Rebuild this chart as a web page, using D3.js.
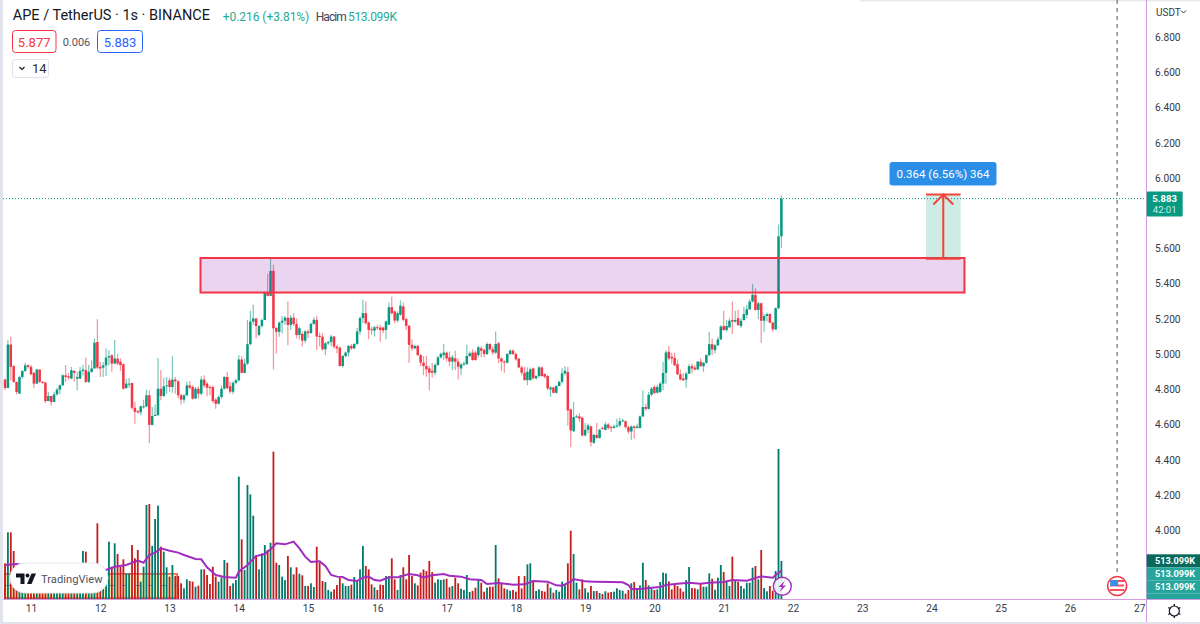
<!DOCTYPE html>
<html>
<head>
<meta charset="utf-8">
<title>APE / TetherUS</title>
<script src="https://cdn.jsdelivr.net/npm/d3@7"></script>
<style>
    html, body { margin: 0; padding: 0; background: #fff; overflow: hidden; }
    text { font-family: Roboto, "Noto Sans", sans-serif; }
    .axis text { font-size: 10.2px; fill: #363a45; }
</style>
</head>
<body>
<div id="chart"></div>
<script>
// ---- hourly candles, first one is 10th 15:00
const opens = [
    4.856,4.808,5.055,4.932,4.843,4.776,4.871,4.905,4.937,4.928,4.894,4.833,4.913,4.843,4.839,4.734,4.763,4.729,4.772,4.799,
    4.823,4.880,4.875,4.861,4.905,4.861,4.861,4.905,4.909,4.843,4.900,4.919,5.069,4.928,4.924,4.937,4.981,4.994,4.947,4.974,
    4.957,4.943,4.808,4.829,4.837,4.696,4.677,4.670,4.700,4.704,4.767,4.599,4.649,4.653,4.804,4.763,4.818,4.852,4.814,4.856,
    4.846,4.767,4.742,4.767,4.823,4.814,4.748,4.804,4.776,4.856,4.833,4.814,4.814,4.742,4.719,4.757,4.804,4.871,4.818,4.787,
    4.837,4.852,4.970,4.894,4.947,5.057,5.185,5.203,5.109,5.160,5.194,5.350,5.331,5.473,5.150,5.127,5.179,5.190,5.207,5.166,
    5.207,5.171,5.109,5.115,5.077,5.129,5.119,5.172,5.195,5.104,5.100,5.028,5.062,5.070,5.100,5.043,5.037,4.933,4.990,5.009,
    5.047,5.033,5.058,5.129,5.205,5.233,5.180,5.142,5.134,5.153,5.151,5.151,5.138,5.167,5.267,5.243,5.191,5.224,5.271,5.199,
    5.161,5.053,5.033,5.047,4.995,4.952,4.933,4.919,4.906,4.895,4.939,4.982,4.995,5.009,4.982,4.958,4.976,4.958,4.919,4.942,
    4.944,4.990,5.009,5.009,4.995,5.033,5.024,5.001,5.058,5.028,5.009,5.062,4.976,4.958,4.952,5.001,5.020,5.001,4.975,4.925,
    4.895,4.853,4.853,4.919,4.863,4.876,4.925,4.887,4.876,4.800,4.811,4.781,4.819,4.843,4.891,4.899,4.687,4.563,4.643,4.647,
    4.639,4.539,4.571,4.590,4.497,4.542,4.525,4.582,4.571,4.601,4.586,4.582,4.590,4.596,4.620,4.620,4.586,4.561,4.590,4.582,
    4.582,4.647,4.700,4.690,4.770,4.814,4.782,4.786,4.833,4.894,5.014,4.985,4.979,4.943,4.886,4.862,4.856,4.890,4.932,4.924,
    4.913,4.958,4.932,4.951,4.995,5.057,5.023,5.051,5.084,5.160,5.137,5.152,5.194,5.185,5.204,5.160,5.194,5.223,5.255,5.299,
    5.337,5.251,5.289,5.190,5.217,5.228,5.179,5.141,5.261,5.669
];
const closes = [
    4.808,5.055,4.928,4.843,4.785,4.871,4.905,4.937,4.928,4.886,4.833,4.913,4.843,4.837,4.734,4.763,4.729,4.772,4.799,4.823,
    4.880,4.871,4.867,4.909,4.894,4.871,4.905,4.913,4.843,4.900,4.919,5.065,4.924,4.919,4.937,4.981,4.989,4.947,4.976,4.947,
    4.938,4.804,4.833,4.833,4.696,4.673,4.670,4.704,4.704,4.767,4.599,4.649,4.656,4.804,4.763,4.818,4.823,4.814,4.856,4.846,
    4.767,4.742,4.767,4.823,4.810,4.748,4.804,4.776,4.856,4.823,4.810,4.810,4.734,4.719,4.757,4.804,4.871,4.808,4.787,4.837,
    4.852,4.970,4.894,4.947,5.057,5.185,5.203,5.160,5.160,5.194,5.350,5.331,5.473,5.147,5.127,5.179,5.190,5.207,5.166,5.207,
    5.171,5.109,5.147,5.077,5.129,5.119,5.172,5.195,5.100,5.100,5.028,5.062,5.070,5.100,5.043,5.033,4.933,4.990,5.009,5.047,
    5.033,5.058,5.129,5.205,5.233,5.176,5.138,5.138,5.153,5.148,5.138,5.134,5.186,5.267,5.233,5.191,5.233,5.275,5.195,5.161,
    5.053,5.033,5.047,4.995,4.952,4.933,4.914,4.895,4.895,4.939,4.982,5.001,5.009,4.976,4.958,4.982,4.958,4.929,4.942,4.948,
    4.990,5.005,4.967,4.967,5.039,5.020,5.001,5.058,5.028,5.009,5.058,4.976,4.958,4.952,5.001,5.020,5.001,4.971,4.925,4.895,
    4.853,4.900,4.914,4.863,4.876,4.925,4.876,4.872,4.806,4.811,4.781,4.819,4.843,4.891,4.906,4.681,4.567,4.643,4.647,4.634,
    4.539,4.571,4.596,4.501,4.542,4.525,4.571,4.577,4.601,4.582,4.580,4.590,4.596,4.620,4.624,4.586,4.561,4.590,4.582,4.590,
    4.647,4.700,4.690,4.770,4.805,4.780,4.814,4.833,4.894,5.010,4.976,4.976,4.937,4.886,4.856,4.852,4.890,4.932,4.919,4.913,
    4.958,4.932,4.951,4.995,5.057,5.027,5.051,5.084,5.156,5.137,5.160,5.190,5.185,5.194,5.166,5.190,5.228,5.255,5.299,5.337,
    5.251,5.289,5.190,5.217,5.228,5.179,5.141,5.261,5.669,5.883
];
const highs = [
    4.861,5.080,5.099,4.938,4.843,4.875,4.909,4.951,4.943,4.938,4.899,4.918,4.913,4.848,4.843,4.785,4.763,4.785,4.810,4.829,
    4.886,4.938,4.894,4.928,4.909,4.899,4.928,4.938,4.981,4.938,4.966,5.090,5.198,4.956,4.956,5.033,5.023,5.000,5.080,5.000,
    4.976,4.947,4.861,4.867,4.837,4.729,4.685,4.709,4.742,4.799,4.795,4.700,4.715,4.979,4.909,4.867,4.871,4.867,4.989,4.871,
    4.852,4.776,4.772,4.843,4.848,4.823,4.814,4.818,4.875,4.880,4.843,4.823,4.823,4.748,4.767,4.823,4.875,4.900,4.843,4.848,
    4.861,4.995,4.989,4.976,5.194,5.247,5.280,5.203,5.166,5.203,5.356,5.456,5.551,5.508,5.152,5.185,5.217,5.217,5.299,5.222,
    5.232,5.203,5.156,5.129,5.138,5.142,5.180,5.210,5.218,5.123,5.119,5.071,5.077,5.110,5.104,5.053,5.043,4.996,5.015,5.053,
    5.058,5.062,5.148,5.214,5.309,5.300,5.186,5.157,5.161,5.167,5.167,5.157,5.191,5.294,5.328,5.248,5.243,5.305,5.294,5.205,
    5.167,5.085,5.053,5.053,5.001,4.990,4.990,4.933,4.948,4.948,4.990,5.009,5.058,5.015,5.015,4.996,5.020,4.977,4.948,4.958,
    5.053,5.015,5.028,5.020,5.047,5.047,5.033,5.066,5.062,5.043,5.129,5.071,4.982,4.967,5.005,5.028,5.028,5.009,4.977,4.933,
    4.929,4.925,4.925,4.925,4.881,4.933,4.929,4.891,4.881,4.819,4.815,4.825,4.849,4.920,4.933,4.928,4.691,4.729,4.658,4.666,
    4.647,4.609,4.605,4.596,4.548,4.609,4.577,4.590,4.615,4.609,4.596,4.601,4.634,4.639,4.634,4.624,4.596,4.596,4.596,4.605,
    4.652,4.795,4.719,4.786,4.814,4.824,4.827,4.843,4.957,5.023,5.046,5.008,5.008,4.970,4.913,4.894,4.900,4.943,4.947,4.938,
    4.962,4.976,4.957,5.000,5.128,5.089,5.057,5.099,5.166,5.247,5.194,5.204,5.299,5.247,5.251,5.204,5.270,5.280,5.312,5.399,
    5.375,5.299,5.293,5.228,5.236,5.232,5.185,5.266,5.736,5.901
];
const lows = [
    4.795,4.808,4.852,4.837,4.772,4.776,4.861,4.899,4.918,4.880,4.808,4.833,4.837,4.833,4.723,4.734,4.709,4.729,4.766,4.772,
    4.823,4.843,4.856,4.861,4.843,4.795,4.861,4.880,4.837,4.837,4.894,4.919,4.913,4.871,4.871,4.875,4.937,4.900,4.943,4.937,
    4.905,4.799,4.804,4.810,4.685,4.605,4.662,4.653,4.691,4.700,4.495,4.595,4.649,4.653,4.738,4.757,4.776,4.785,4.780,4.776,
    4.748,4.715,4.723,4.761,4.799,4.742,4.748,4.748,4.767,4.810,4.761,4.767,4.723,4.691,4.715,4.748,4.799,4.799,4.776,4.772,
    4.829,4.843,4.890,4.890,4.937,5.051,5.166,5.090,5.103,5.152,5.194,5.327,5.331,4.913,5.004,5.099,5.118,5.166,5.051,5.137,
    5.160,5.090,5.084,5.043,5.062,5.090,5.119,5.167,5.024,5.043,5.020,4.995,5.053,5.047,5.033,5.005,4.929,4.925,4.982,4.986,
    5.024,5.028,5.053,5.110,5.176,5.167,5.085,5.110,5.100,5.138,5.071,5.119,5.085,5.218,5.224,5.176,5.180,5.218,5.185,5.138,
    4.952,5.020,5.028,4.990,4.933,4.881,4.872,4.796,4.868,4.881,4.933,4.976,4.967,4.958,4.933,4.910,4.910,4.857,4.881,4.933,
    4.939,4.982,4.963,4.963,4.982,4.982,4.982,4.995,5.020,4.995,5.001,4.948,4.906,4.895,4.948,4.995,4.995,4.963,4.920,4.881,
    4.849,4.824,4.849,4.857,4.857,4.868,4.872,4.863,4.796,4.758,4.777,4.777,4.819,4.834,4.881,4.596,4.472,4.557,4.639,4.615,
    4.533,4.533,4.552,4.476,4.491,4.520,4.520,4.571,4.567,4.571,4.557,4.578,4.582,4.586,4.615,4.577,4.548,4.514,4.520,4.577,
    4.577,4.643,4.681,4.685,4.761,4.772,4.776,4.780,4.795,4.833,4.966,4.947,4.932,4.881,4.852,4.848,4.810,4.886,4.890,4.909,
    4.913,4.928,4.900,4.947,4.989,4.995,5.004,5.046,5.080,5.133,5.128,5.152,5.114,5.179,5.160,5.147,5.190,5.204,5.251,5.293,
    5.247,5.198,5.065,5.128,5.185,5.175,5.128,5.137,5.255,5.602
];
// volume in K, the ones behind the logo are guessed
const volumes = [
    482,900,900,648,428,382,270,315,225,292,338,396,270,324,225,202,279,360,261,414,
    248,315,216,297,261,333,360,648,639,450,382,405,1022,360,315,270,774,436,752,608,
    436,536,346,346,729,549,662,234,436,1269,1282,716,1080,1260,706,639,428,302,459,310,
    310,212,144,266,243,234,166,180,400,400,324,202,436,302,234,292,526,490,176,212,
    256,1652,806,392,1539,1413,1125,594,400,616,729,662,760,1989,490,459,302,256,580,428,
    333,428,342,320,176,176,212,162,706,490,243,230,122,99,130,189,292,212,176,176,
    194,297,243,400,716,446,400,198,158,122,194,189,310,310,549,266,122,324,428,266,
    594,310,212,184,356,400,378,513,364,220,266,256,266,274,158,176,288,212,140,122,
    324,94,108,153,256,220,99,153,166,166,729,279,212,144,130,112,122,99,310,144,
    310,468,482,234,108,130,108,99,212,153,86,122,99,234,189,482,922,608,220,130,
    266,144,90,176,108,108,81,68,104,86,94,99,144,122,112,72,122,212,230,122,
    184,490,256,184,144,122,130,230,356,346,238,130,194,176,144,99,256,432,148,144,
    130,202,166,166,346,274,126,288,459,364,238,176,572,243,234,176,140,220,220,423,
    446,266,662,148,104,176,112,378,2025,513.099
];
// purple average on the volume pane, candle number and value in K
const maIndex = [0,4,12,22,35,38,42,46,48,50,52,54,57,60,62,66,68,70,73,76,80,81,84,87,90,92,94,97,100,102,
    104,106,109,111,113,115,117,119,122,124,126,128,130,133,136,140,143,145,148,152,154,158,161,165,167,171,176,180,183,188,
    191,193,196,197,201,204,210,214,216,217,220,224,227,229,233,237,241,244,249,252,257,262,266,267,269];
const maValues = [459,472,440,410,392,436,459,518,490,594,626,684,652,626,594,540,536,428,324,297,288,369,459,580,608,670,752,738,774,684,
    572,500,508,446,324,302,297,256,243,288,302,256,248,292,292,338,320,292,320,338,315,302,266,256,202,216,194,198,243,234,
    184,180,234,270,238,234,230,225,189,135,135,153,162,189,207,220,207,220,230,256,248,306,288,324,382];

const dayTicks = [11, 12, 13, 14, 15, 16, 17, 18, 19, 20, 21, 22, 23, 24, 25, 26, 27];
const priceTicks = [6.8, 6.6, 6.4, 6.2, 6.0, 5.6, 5.4, 5.2, 5.0, 4.8, 4.6, 4.4, 4.2, 4.0];

const lastPrice = 5.883;
const firstDay = 11 - 9 / 24;
const zone = { d0: 13.447, d1: 24.476, p0: 5.546, p1: 5.35 };
const range = { d0: 23.92, d1: 24.42, p0: 5.542, p1: 5.906 };
const oldBox = { d0: 10.625, d1: 13.11, p0: 3.753, p1: 3.616 };
const eventDay = 26.68;

// ---- sizes
const w = 1200;
const h = 624;
const paneRight = 1146.5;
const paneBottom = 599;

const green = "#089981";
const red = "#f23645";
const purple = "#d39be0";

// SCALES
const xScale = d3.scaleLinear().domain([11, 27]).range([31, 1139.3]);
const yScale = d3.scaleLinear().domain([6, 4]).range([178, 530.4]);
const volScale = d3.scaleLinear().domain([0, 2025]).range([paneBottom, 449]);

const svg = d3.select("#chart").append("svg").attr("width", w).attr("height", h);

const candles = closes.map((c, i) => ({
    day: firstDay + i / 24,
    open: opens[i],
    close: c,
    high: highs[i],
    low: lows[i],
    vol: volumes[i],
    up: c >= opens[i],
}));

// page edges
svg.append("rect").attr("width", w).attr("height", h).attr("fill", "#fff");
svg.append("rect").attr("width", 3).attr("height", h).attr("fill", "#e0e3eb");
svg.append("rect").attr("y", 622).attr("width", w).attr("height", 2).attr("fill", "#e0e3eb");
svg.append("rect").attr("x", 860).attr("width", 340).attr("height", 1.5).attr("fill", "#e8e9ee");

//------------------------------------
//         VOLUME PANE
//------------------------------------

// the little yellow drawing behind the logo
svg.append("rect")
    .attr("x", xScale(oldBox.d0))
    .attr("y", yScale(oldBox.p0))
    .attr("width", xScale(oldBox.d1) - xScale(oldBox.d0))
    .attr("height", yScale(oldBox.p1) - yScale(oldBox.p0))
    .attr("fill", "#fbf3b4")
    .attr("stroke", "#ef4e4e")
    .attr("stroke-width", 1.5);
svg.append("line")
    .attr("x1", xScale(oldBox.d0))
    .attr("x2", xScale(oldBox.d1))
    .attr("y1", 585.5)
    .attr("y2", 585.5)
    .attr("stroke", "#5b9bd5")
    .attr("stroke-dasharray", "5,8");

svg.append("g")
    .selectAll("rect")
    .data(candles)
    .enter()
    .append("rect")
    .attr("x", (d) => xScale(d.day) - 0.9)
    .attr("y", (d) => volScale(d.vol))
    .attr("width", 1.8)
    .attr("height", (d) => paneBottom - volScale(d.vol))
    .attr("fill", (d) => (d.up ? "#00796b" : "#c41c1c"));

const maLine = d3
    .line()
    .x((d) => xScale(firstDay + d / 24))
    .y((d, i) => volScale(maValues[i]));

svg.append("path")
    .attr("d", maLine(maIndex))
    .attr("fill", "none")
    .attr("stroke", "#a32cc0")
    .attr("stroke-width", 2);

//------------------------------------
//         CANDLES
//------------------------------------

const candle = svg.append("g").selectAll("g").data(candles).enter().append("g");

candle
    .append("line")
    .attr("x1", (d) => xScale(d.day))
    .attr("x2", (d) => xScale(d.day))
    .attr("y1", (d) => yScale(d.high))
    .attr("y2", (d) => yScale(d.low))
    .attr("stroke", (d) => (d.up ? green : red))
    .attr("stroke-opacity", 0.55)
    .attr("stroke-width", 1.2);

candle
    .append("rect")
    .attr("x", (d) => xScale(d.day) - 1.25)
    .attr("y", (d) => yScale(Math.max(d.open, d.close)))
    .attr("width", 2.5)
    .attr("height", (d) => Math.max(1, Math.abs(yScale(d.open) - yScale(d.close))))
    .attr("fill", (d) => (d.up ? green : red));

//------------------------------------
//         DRAWINGS
//------------------------------------

// last price line
svg.append("line")
    .attr("x1", 3)
    .attr("x2", paneRight)
    .attr("y1", yScale(lastPrice))
    .attr("y2", yScale(lastPrice))
    .attr("stroke", green)
    .attr("stroke-dasharray", "1,2");

// support / resistance zone
svg.append("rect")
    .attr("x", xScale(zone.d0))
    .attr("y", yScale(zone.p0))
    .attr("width", xScale(zone.d1) - xScale(zone.d0))
    .attr("height", yScale(zone.p1) - yScale(zone.p0))
    .attr("fill", "#9c27b0")
    .attr("fill-opacity", 0.2)
    .attr("stroke", red)
    .attr("stroke-width", 2);

// price range tool
const rangeX0 = xScale(range.d0);
const rangeX1 = xScale(range.d1);
const rangeMid = (rangeX0 + rangeX1) / 2;
const rangeBottom = yScale(range.p0);
const rangeTop = yScale(range.p1);
svg.append("rect")
    .attr("x", rangeX0)
    .attr("y", rangeTop)
    .attr("width", rangeX1 - rangeX0)
    .attr("height", rangeBottom - rangeTop)
    .attr("fill", green)
    .attr("fill-opacity", 0.2);
[rangeTop, rangeBottom].forEach((y) => {
    svg.append("line")
        .attr("x1", rangeX0)
        .attr("x2", rangeX1)
        .attr("y1", y)
        .attr("y2", y)
        .attr("stroke", "#f44336")
        .attr("stroke-width", 2);
});
svg.append("path")
    .attr("d", `M${rangeMid},${rangeBottom}V${rangeTop}M${rangeMid - 10},${rangeTop + 10}L${rangeMid},${rangeTop}L${rangeMid + 10},${rangeTop + 10}`)
    .attr("fill", "none")
    .attr("stroke", "#f44336")
    .attr("stroke-width", 2);

svg.append("rect")
    .attr("x", 889.5)
    .attr("y", 162)
    .attr("width", 107)
    .attr("height", 23.5)
    .attr("rx", 3)
    .attr("fill", "#2b8fe8");
svg.append("text")
    .attr("x", 943)
    .attr("y", 178)
    .attr("text-anchor", "middle")
    .attr("font-size", 11.5)
    .attr("fill", "#fff")
    .text("0.364 (6.56%) 364");

// event line and flag
const eventX = xScale(eventDay);
svg.append("line")
    .attr("x1", eventX)
    .attr("x2", eventX)
    .attr("y1", 0)
    .attr("y2", 576)
    .attr("stroke", "#50535e")
    .attr("stroke-dasharray", "4,4");
svg.append("circle").attr("cx", eventX).attr("cy", 586).attr("r", 9.5).attr("fill", "#fff").attr("stroke", red).attr("stroke-width", 1.6);
svg.append("rect").attr("x", eventX - 7).attr("y", 580).attr("width", 14).attr("height", 2).attr("fill", "#f7525f");
svg.append("rect").attr("x", eventX - 7).attr("y", 584.5).attr("width", 14).attr("height", 2).attr("fill", "#f7525f");
svg.append("rect").attr("x", eventX - 7).attr("y", 589).attr("width", 14).attr("height", 2).attr("fill", "#f7525f");
svg.append("rect").attr("x", eventX - 7).attr("y", 580).attr("width", 8).attr("height", 6).attr("fill", "#3d8fe6");

// TradingView badge
svg.append("rect")
    .attr("x", 10)
    .attr("y", 563)
    .attr("width", 98)
    .attr("height", 30)
    .attr("rx", 15)
    .attr("fill", "#fff")
    .attr("stroke", "#e8e9ee");
svg.append("path").attr("d", "M16,573.5H24.5V584H20.5V577.5H16Z").attr("fill", "#131722");
svg.append("circle").attr("cx", 27.5).attr("cy", 575.5).attr("r", 2).attr("fill", "#131722");
svg.append("path").attr("d", "M31.5,573.5H36L31.5,584H27Z").attr("fill", "#131722");
svg.append("text")
    .attr("x", 41)
    .attr("y", 582.8)
    .attr("font-size", 11.2)
    .attr("fill", "#50535e")
    .text("TradingView");

// bolt button at the last bar
svg.append("circle").attr("cx", 782.3).attr("cy", 586.3).attr("r", 9).attr("fill", "#fff").attr("fill-opacity", 0.85).attr("stroke", "#a32cc0").attr("stroke-width", 1.4);
svg.append("path").attr("d", "M785,580.5L778.5,587H782L779.5,592L786,585.5H782.5Z").attr("fill", "#a32cc0");

//------------------------------------
//         AXES
//------------------------------------

const yAxis = d3.axisRight(yScale).tickValues(priceTicks).tickFormat(d3.format(".3f")).tickSize(0).tickPadding(8.5);
svg.append("g")
    .attr("class", "axis")
    .attr("transform", `translate(${paneRight}, 0)`)
    .call(yAxis)
    .call((g) => g.select(".domain").remove());

const xAxis = d3.axisBottom(xScale).tickValues(dayTicks).tickFormat(d3.format("d")).tickSize(0).tickPadding(6);
svg.append("g")
    .attr("class", "axis")
    .attr("transform", `translate(0, ${paneBottom})`)
    .call(xAxis)
    .call((g) => g.select(".domain").remove());

svg.append("line").attr("x1", 3).attr("x2", w).attr("y1", paneBottom + 0.5).attr("y2", paneBottom + 0.5).attr("stroke", purple).attr("stroke-width", 1);
svg.append("line").attr("x1", paneRight).attr("x2", paneRight).attr("y1", 0).attr("y2", 622).attr("stroke", purple).attr("stroke-width", 1);

svg.append("text").attr("x", 1156).attr("y", 16).attr("font-size", 10).attr("fill", "#363a45").text("USDT");
svg.append("path").attr("d", "M1181,10.5L1183.5,13L1186,10.5").attr("fill", "none").attr("stroke", "#2a2e39").attr("stroke-width", 1);

// last price label
svg.append("rect").attr("x", 1146.7).attr("y", 191.5).attr("width", 36).attr("height", 25).attr("rx", 1).attr("fill", green);
svg.append("text").attr("x", 1164.7).attr("y", 201.5).attr("text-anchor", "middle").attr("font-size", 9.6).attr("font-weight", 700).attr("fill", "#fff").text("5.883");
svg.append("text").attr("x", 1164.7).attr("y", 213).attr("text-anchor", "middle").attr("font-size", 9.6).attr("fill", "#c7ece5").text("42:01");

// volume labels
const volLabels = ["513.099K", "513.099K", "513.099K"];
svg.append("g")
    .selectAll("rect")
    .data(volLabels)
    .enter()
    .append("rect")
    .attr("x", 1146.7)
    .attr("y", (d, i) => 554.3 + i * 13)
    .attr("width", 53.3)
    .attr("height", 13)
    .attr("fill", (d, i) => (i === 0 ? "#08695c" : "#26a69a"));
svg.append("rect").attr("x", 1146.7).attr("y", 593.3).attr("width", 53.3).attr("height", 5.7).attr("fill", "#26a69a");
svg.append("g")
    .selectAll("text")
    .data(volLabels)
    .enter()
    .append("text")
    .attr("x", 1155)
    .attr("y", (d, i) => 564.3 + i * 13)
    .attr("font-size", 9.2)
    .attr("font-weight", 700)
    .attr("fill", "#fff")
    .text((d) => d);

// gear
const gear = svg.append("g").attr("transform", "translate(1174.3, 611)");
gear.append("circle").attr("r", 5).attr("fill", "none").attr("stroke", "#131722").attr("stroke-width", 1.2);
d3.range(0, 360, 60).forEach((a) => {
    gear.append("line")
        .attr("x1", 5)
        .attr("x2", 7)
        .attr("transform", `rotate(${a + 30})`)
        .attr("stroke", "#131722")
        .attr("stroke-width", 1.4);
});

//------------------------------------
//         HEADER
//------------------------------------

svg.append("text").attr("x", 12.7).attr("y", 20).attr("font-size", 14.5).attr("fill", "#131722").text("APE / TetherUS · 1s · BINANCE");
svg.append("text").attr("x", 222.7).attr("y", 21).attr("font-size", 12).attr("textLength", 86.6).attr("fill", "#22ab94").text("+0.216 (+3.81%)");
svg.append("text").attr("x", 315.7).attr("y", 21).attr("font-size", 12).attr("textLength", 31).attr("fill", "#434651").text("Hacim");
svg.append("text").attr("x", 348).attr("y", 21).attr("font-size", 12).attr("textLength", 49).attr("fill", "#22ab94").text("513.099K");

svg.append("rect").attr("x", 12.5).attr("y", 30.5).attr("width", 43.5).attr("height", 22).attr("rx", 3).attr("fill", "#fff").attr("stroke", red);
svg.append("text").attr("x", 34.2).attr("y", 46.5).attr("text-anchor", "middle").attr("font-size", 13).attr("fill", red).text("5.877");
svg.append("text").attr("x", 76.5).attr("y", 46).attr("text-anchor", "middle").attr("font-size", 11).attr("fill", "#50535e").text("0.006");
svg.append("rect").attr("x", 97.5).attr("y", 30.5).attr("width", 45).attr("height", 22).attr("rx", 3).attr("fill", "#fff").attr("stroke", "#2962ff");
svg.append("text").attr("x", 120).attr("y", 46.5).attr("text-anchor", "middle").attr("font-size", 13).attr("fill", "#2962ff").text("5.883");

svg.append("rect").attr("x", 12.5).attr("y", 59.5).attr("width", 36).attr("height", 18).attr("rx", 2).attr("fill", "#fff").attr("stroke", "#e0e3eb");
svg.append("path").attr("d", "M19.5,67L22,69.5L24.5,67").attr("fill", "none").attr("stroke", "#131722").attr("stroke-width", 1.2);
svg.append("text").attr("x", 32).attr("y", 73).attr("font-size", 13).attr("fill", "#2a2e39").text("14");
</script>
</body>
</html>
